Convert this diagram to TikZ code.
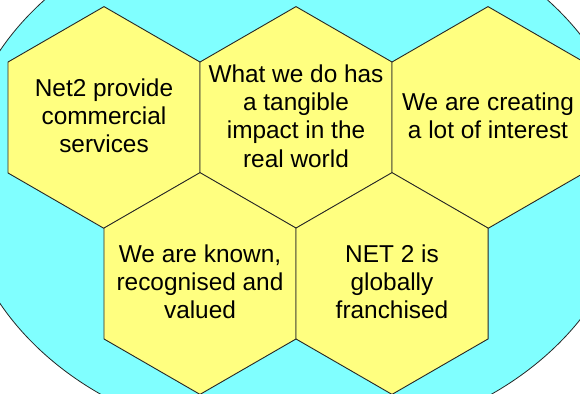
\documentclass[tikz,border=0pt]{standalone}
\usepackage{fontspec}
\setmainfont{Liberation Sans}
\definecolor{bgcyan}{HTML}{80FFFF}
\definecolor{hexyellow}{HTML}{FFFF80}
\newcommand{\linestrut}{\rule[-7.1pt]{0pt}{28.3pt}}
\newcommand{\hexdraw}[1]{%
  \draw[hexshape] (#1) +(90:110.9pt) -- +(30:110.9pt) -- +(-30:110.9pt)
    -- +(-90:110.9pt) -- +(-150:110.9pt) -- +(150:110.9pt) -- cycle;}
\begin{document}
\begin{tikzpicture}[x=1pt,y=-1pt,
  hexshape/.style={fill=hexyellow,draw=black!85,line width=0.9pt,line join=miter},
  hextext/.style={align=center,inner sep=0pt,font=\fontsize{24.4}{28.3}\selectfont},
  backoval/.style={fill=bgcyan,draw=black!85,line width=0.8pt}]
\useasboundingbox (0,0) rectangle (580,393);
\clip (0,0) rectangle (580,393);
\fill[white] (0,0) rectangle (580,393);
\coordinate (ec) at (296,177);
\draw[backoval] (ec) ellipse [x radius=336pt, y radius=267pt];
\coordinate (c1) at (104,117.5);
\coordinate (c2) at (296,117.5);
\coordinate (c3) at (488,117.5);
\coordinate (c4) at (200,283.5);
\coordinate (c5) at (392,283.5);
\hexdraw{c1}
\hexdraw{c2}
\hexdraw{c3}
\hexdraw{c4}
\hexdraw{c5}
\node[hextext] (t1) at (c1) {\linestrut Net2 provide\\\linestrut commercial\\\linestrut services};
\node[hextext] (t2) at (c2) {\linestrut What we do has\\\linestrut a tangible\\\linestrut impact in the\\\linestrut real world};
\node[hextext] (t3) at (c3) {\linestrut We are creating\\\linestrut a lot of interest};
\node[hextext] (t4) at (c4) {\linestrut We are known,\\\linestrut recognised and\\\linestrut valued};
\node[hextext] (t5) at (c5) {\linestrut NET 2 is\\\linestrut globally\\\linestrut franchised};
\end{tikzpicture}
\end{document}
